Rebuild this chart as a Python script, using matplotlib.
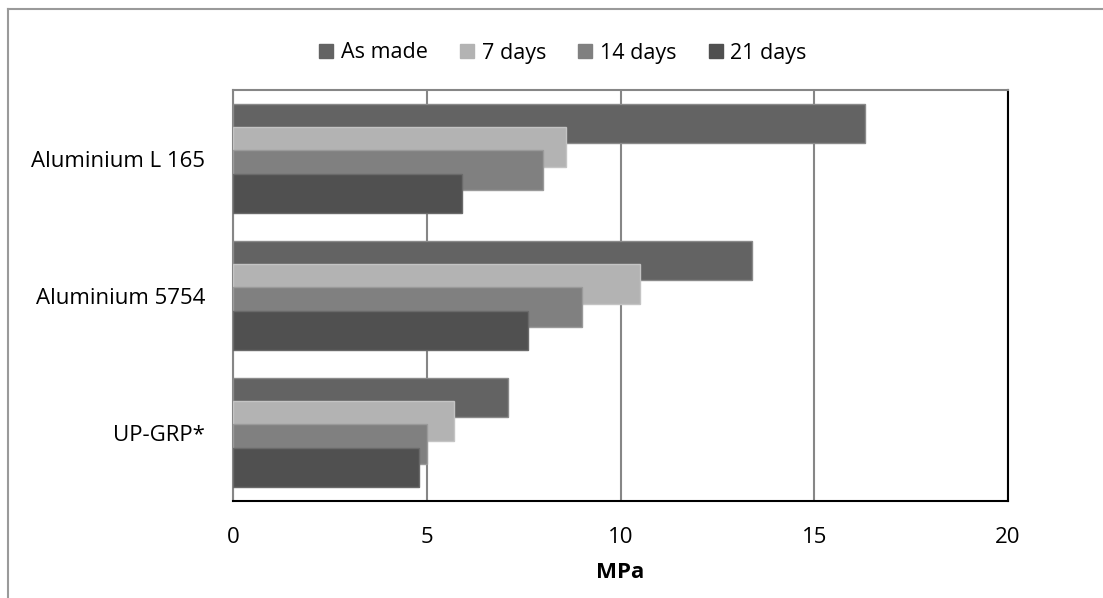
import numpy as np
import matplotlib.pyplot as plt
from matplotlib.lines import Line2D

plt.rcParams['font.family'] = ['Open Sans', 'DejaVu Sans']

# donnees
categories = ['Aluminium L 165', 'Aluminium 5754', 'UP-GRP*']
series = ['As made', '7 days', '14 days', '21 days']
as_made = [16.3, 13.4, 7.1]
days7 = [8.6, 10.5, 5.7]
days14 = [8.0, 9.0, 5.0]
days21 = [5.9, 7.6, 4.8]
values = [as_made, days7, days14, days21]
colors = ['#636363', '#b3b3b3', '#808080', '#505050']
edges = ['#8a8a8a', '#c4c4c4', '#9a9a9a', '#6a6a6a']

fig = plt.figure(figsize=(11.03, 5.98), dpi=100)
ax = fig.add_axes([233/1103, 1-501/598, (1008-233)/1103, (501-90)/598])

y = np.arange(len(categories))
h = 0.285
step = 0.168
for i in range(len(series)):
    ax.barh(y + (i-1.5)*step, values[i], height=h, color=colors[i],
            edgecolor=edges[i], linewidth=1, label=series[i], zorder=3)

ax.set_xlim(0, 20)
ax.set_ylim(len(categories)-0.5, -0.5)
ax.set_xticks([0, 5, 10, 15, 20])
ax.set_yticks(y)
ax.set_yticklabels(categories, fontsize=16)
ax.tick_params(axis='x', labelsize=16, length=0, pad=19)
ax.tick_params(axis='y', length=0, pad=20)
ax.xaxis.grid(True, color='#868686', linewidth=1.5, zorder=0)
ax.set_axisbelow(True)
ax.spines['left'].set_color('#868686')
ax.spines['top'].set_color('#868686')
ax.spines['right'].set_color('black')
ax.spines['bottom'].set_color('black')
for s in ax.spines.values():
    s.set_linewidth(1.5)
ax.set_xlabel('MPa', fontsize=16, fontweight='bold', labelpad=10)

handles = [plt.Rectangle((0, 0), 1, 1, color=c) for c in colors]
fig.legend(handles, series, loc='center', bbox_to_anchor=(563/1103, 1-53/598),
           ncol=4, frameon=False, fontsize=15.5, handlelength=0.65,
           handleheight=0.65, handletextpad=0.35, columnspacing=1.5)

# cadre du graphique
fig.add_artist(Line2D([8/1103, 1], [1-9/598, 1-9/598], color='#9a9a9a', lw=1.5))
fig.add_artist(Line2D([8/1103, 8/1103], [0, 1-9/598], color='#9a9a9a', lw=1.5))

plt.savefig('out.png', dpi=100)
